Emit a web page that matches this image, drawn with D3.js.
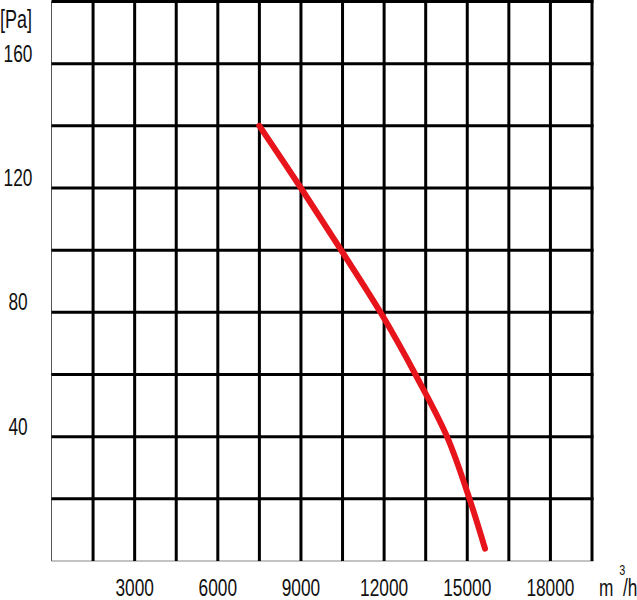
<!DOCTYPE html>
<html>
<head>
<meta charset="utf-8">
<script src="https://cdn.jsdelivr.net/npm/d3@7"></script>
<style>
  body { margin: 0; background: #fff; }
  svg text { font-family: "Liberation Sans", Arial, sans-serif; fill: #111; }
</style>
</head>
<body>
<svg id="chart" width="637" height="600"></svg>
<script>
// flow [m3/h] / static pressure [Pa]
var flow = [7500, 9000, 10450, 11870, 13130, 14270, 15080, 15640];
var pressure = [140, 120, 100, 80, 60, 40, 20, 4];

// grid and labels
var xGrid = [1500, 3000, 4500, 6000, 7500, 9000, 10500, 12000, 13500, 15000, 16500, 18000, 19500];
var xLabels = [3000, 6000, 9000, 12000, 15000, 18000];
var yGrid = [20, 40, 60, 80, 100, 120, 140, 160, 180];
var yLabels = [40, 80, 120, 160];

var svg = d3.select("#chart");
var plotLeft = 51.5, plotRight = 592, plotTop = 1.5, plotBottom = 561;
var squeeze = 0.72; // the labels are set in a narrow face

var x = d3.scaleLinear().domain([0, 19500]).range([plotLeft, plotRight]);
var y = d3.scaleLinear().domain([0, 180]).range([plotBottom, plotTop]);

// thin frame left and bottom
svg.append("line")
    .attr("x1", plotLeft).attr("x2", plotLeft)
    .attr("y1", plotTop).attr("y2", plotBottom)
    .attr("stroke", "#555").attr("stroke-width", 1);
svg.append("line")
    .attr("x1", plotLeft).attr("x2", plotRight + 1.5)
    .attr("y1", plotBottom).attr("y2", plotBottom)
    .attr("stroke", "#888").attr("stroke-width", 1.2);

// thick grid lines
svg.append("g").selectAll("line")
    .data(xGrid)
    .enter().append("line")
    .attr("x1", function (d) { return x(d); })
    .attr("x2", function (d) { return x(d); })
    .attr("y1", plotTop - 1.5)
    .attr("y2", plotBottom)
    .attr("stroke", "#000")
    .attr("stroke-width", 3);

svg.append("g").selectAll("line")
    .data(yGrid)
    .enter().append("line")
    .attr("x1", plotLeft)
    .attr("x2", plotRight + 1.5)
    .attr("y1", function (d) { return y(d); })
    .attr("y2", function (d) { return y(d); })
    .attr("stroke", "#000")
    .attr("stroke-width", 3);

// y labels
svg.append("g").selectAll("text")
    .data(yLabels)
    .enter().append("text")
    .attr("transform", function (d) { return "translate(18," + (y(d) - 2) + ") scale(" + squeeze + ",1)"; })
    .attr("text-anchor", "middle")
    .style("font-size", "24px")
    .text(function (d) { return d; });

svg.append("text")
    .attr("transform", "translate(0,28) scale(" + squeeze + ",1)")
    .style("font-size", "25px")
    .text("[Pa]");

// x labels
svg.append("g").selectAll("text")
    .data(xLabels)
    .enter().append("text")
    .attr("transform", function (d) { return "translate(" + x(d) + ",596) scale(" + squeeze + ",1)"; })
    .attr("text-anchor", "middle")
    .style("font-size", "24px")
    .text(function (d) { return d; });

var unit = svg.append("text")
    .attr("transform", "translate(599,596) scale(" + squeeze + ",1)")
    .style("font-size", "24px");
unit.append("tspan").text("m");
unit.append("tspan").attr("dx", 8).attr("dy", -21).style("font-size", "15px").text("3");
unit.append("tspan").attr("dx", -3).attr("dy", 21).text("/h");

// curve
var line = d3.line()
    .x(function (d) { return x(d[0]); })
    .y(function (d) { return y(d[1]); })
    .curve(d3.curveCatmullRom.alpha(0.5));

svg.append("path")
    .datum(d3.zip(flow, pressure))
    .attr("d", line)
    .attr("fill", "none")
    .attr("stroke", "#e8141c")
    .attr("stroke-width", 6)
    .attr("stroke-linecap", "round");
</script>
</body>
</html>
